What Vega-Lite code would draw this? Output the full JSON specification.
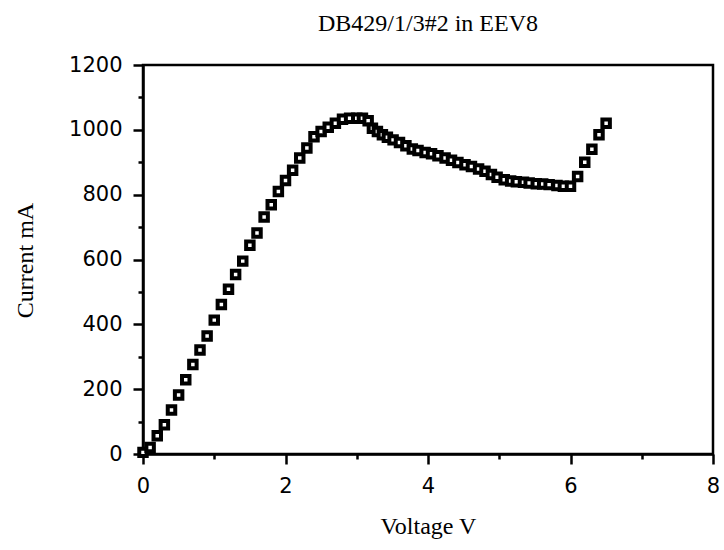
{
  "$schema": "https://vega.github.io/schema/vega-lite/v6.json",
  "width": 570,
  "height": 389,
  "autosize": "none",
  "padding": {"left": 143, "top": 65, "right": 11, "bottom": 96},
  "background": "white",
  "config": {
    "view": {"stroke": "black", "strokeWidth": 2.5},
    "axis": {
      "grid": false,
      "domainColor": "black",
      "domainWidth": 2.5,
      "tickColor": "black",
      "tickWidth": 2.5,
      "labelColor": "black",
      "labelFont": "DejaVu Sans",
      "labelFontSize": 21,
      "titleColor": "black",
      "titleFont": "Liberation Serif",
      "titleFontSize": 24,
      "titleFontWeight": "normal"
    }
  },
  "title": {
    "text": "DB429/1/3#2 in EEV8",
    "font": "Liberation Serif",
    "fontSize": 24,
    "fontWeight": "normal",
    "color": "black",
    "offset": 18
  },
  "data": {
    "values": [
      {"V": 0.0, "I": 5}, {"V": 0.1, "I": 20}, {"V": 0.2, "I": 56}, {"V": 0.3, "I": 90},
      {"V": 0.4, "I": 136}, {"V": 0.5, "I": 182}, {"V": 0.6, "I": 229}, {"V": 0.7, "I": 276},
      {"V": 0.8, "I": 321}, {"V": 0.9, "I": 364}, {"V": 1.0, "I": 413}, {"V": 1.1, "I": 461},
      {"V": 1.2, "I": 508}, {"V": 1.3, "I": 554}, {"V": 1.4, "I": 595}, {"V": 1.5, "I": 644},
      {"V": 1.6, "I": 682}, {"V": 1.7, "I": 731}, {"V": 1.8, "I": 769}, {"V": 1.9, "I": 810},
      {"V": 2.0, "I": 844}, {"V": 2.1, "I": 875}, {"V": 2.2, "I": 913}, {"V": 2.3, "I": 944},
      {"V": 2.4, "I": 979}, {"V": 2.5, "I": 995}, {"V": 2.6, "I": 1008}, {"V": 2.7, "I": 1020},
      {"V": 2.8, "I": 1033}, {"V": 2.9, "I": 1036}, {"V": 3.0, "I": 1036}, {"V": 3.08, "I": 1036},
      {"V": 3.16, "I": 1028}, {"V": 3.22, "I": 1005}, {"V": 3.29, "I": 995}, {"V": 3.36, "I": 985},
      {"V": 3.43, "I": 977}, {"V": 3.51, "I": 969}, {"V": 3.6, "I": 961}, {"V": 3.69, "I": 951},
      {"V": 3.78, "I": 941}, {"V": 3.86, "I": 936}, {"V": 3.96, "I": 930}, {"V": 4.05, "I": 926},
      {"V": 4.14, "I": 920}, {"V": 4.24, "I": 913}, {"V": 4.33, "I": 906}, {"V": 4.42, "I": 899},
      {"V": 4.52, "I": 892}, {"V": 4.61, "I": 887}, {"V": 4.71, "I": 879}, {"V": 4.8, "I": 872},
      {"V": 4.89, "I": 862}, {"V": 4.97, "I": 854}, {"V": 5.07, "I": 846}, {"V": 5.16, "I": 842},
      {"V": 5.24, "I": 840}, {"V": 5.34, "I": 838}, {"V": 5.42, "I": 836}, {"V": 5.52, "I": 834},
      {"V": 5.61, "I": 833}, {"V": 5.7, "I": 831}, {"V": 5.81, "I": 828}, {"V": 5.9, "I": 826},
      {"V": 6.0, "I": 826}, {"V": 6.1, "I": 856}, {"V": 6.2, "I": 900}, {"V": 6.3, "I": 940},
      {"V": 6.4, "I": 985}, {"V": 6.5, "I": 1020}
    ]
  },
  "mark": {
    "type": "point",
    "shape": "square",
    "size": 56,
    "filled": true,
    "fill": "white",
    "stroke": "black",
    "strokeWidth": 4,
    "opacity": 1,
    "clip": false
  },
  "encoding": {
    "x": {
      "field": "V",
      "type": "quantitative",
      "scale": {"domain": [0, 8], "nice": false, "zero": false},
      "axis": {
        "title": "Voltage V",
        "format": "d",
        "values": [0, 1, 2, 3, 4, 5, 6, 7, 8],
        "labelExpr": "datum.value % 2 === 0 ? datum.label : ''",
        "tickSize": {"condition": {"test": "datum.value % 2 === 0", "value": 10}, "value": 5},
        "labelPadding": 11,
        "labelFlush": false,
        "titleY": 79,
        "titleBaseline": "alphabetic"
      }
    },
    "y": {
      "field": "I",
      "type": "quantitative",
      "scale": {"domain": [0, 1200], "nice": false},
      "axis": {
        "title": "Current mA",
        "format": "d",
        "values": [0, 100, 200, 300, 400, 500, 600, 700, 800, 900, 1000, 1100, 1200],
        "labelExpr": "datum.value % 200 === 0 ? datum.label : ''",
        "tickSize": {"condition": {"test": "datum.value % 200 === 0", "value": 10}, "value": 5},
        "labelPadding": 11,
        "labelFlush": false,
        "titleX": -118,
        "titleY": 195,
        "titleBaseline": "middle",
        "titleAlign": "center"
      }
    }
  }
}
